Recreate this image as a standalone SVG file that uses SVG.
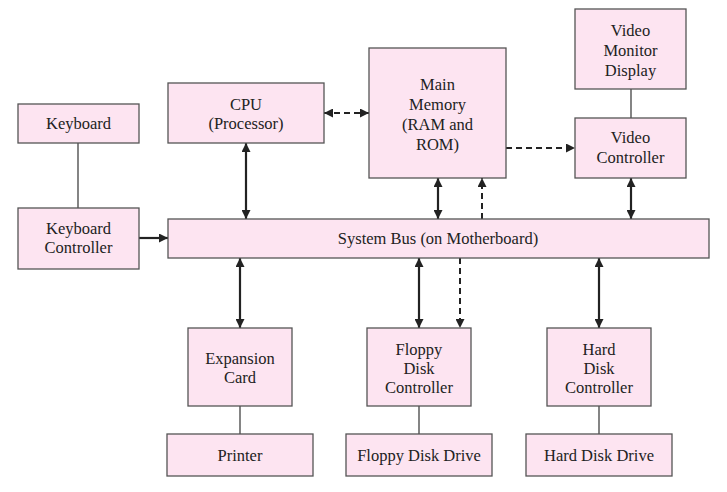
<svg xmlns="http://www.w3.org/2000/svg" width="727" height="492" viewBox="0 0 727 492">
<style>
.box{fill:#fde4f1;stroke:#555;stroke-width:1.3}
.ln{stroke:#333;stroke-width:1.2;fill:none}
.ar{stroke:#222;stroke-width:2.2;fill:none}
.da{stroke:#222;stroke-width:2;fill:none;stroke-dasharray:6 4}
</style>
<defs>
<marker id="ah" viewBox="0 0 10 10" refX="10" refY="5" markerUnits="userSpaceOnUse" markerWidth="9" markerHeight="9" orient="auto-start-reverse">
<path d="M0,0 L10,5 L0,10 z" fill="#222"/>
</marker>
</defs>
<rect width="727" height="492" fill="#fff"/>
<g id="connectors">
<line class="ln" x1="78" y1="143" x2="78" y2="208"/>
<line class="ln" x1="631" y1="89" x2="631" y2="118"/>
<line class="ln" x1="240" y1="406" x2="240" y2="434"/>
<line class="ln" x1="419" y1="406" x2="419" y2="434"/>
<line class="ln" x1="599" y1="406" x2="599" y2="434"/>
<line class="ar" x1="139" y1="238" x2="168" y2="238" marker-end="url(#ah)"/>
<line class="ar" x1="246" y1="143" x2="246" y2="219" marker-start="url(#ah)" marker-end="url(#ah)"/>
<line class="ar" x1="438" y1="178" x2="438" y2="219" marker-start="url(#ah)" marker-end="url(#ah)"/>
<line class="ar" x1="631" y1="178" x2="631" y2="219" marker-start="url(#ah)" marker-end="url(#ah)"/>
<line class="ar" x1="240" y1="258" x2="240" y2="328" marker-start="url(#ah)" marker-end="url(#ah)"/>
<line class="ar" x1="419" y1="258" x2="419" y2="328" marker-start="url(#ah)" marker-end="url(#ah)"/>
<line class="ar" x1="599" y1="258" x2="599" y2="328" marker-start="url(#ah)" marker-end="url(#ah)"/>
<line class="da" x1="324" y1="113" x2="369" y2="113" marker-start="url(#ah)" marker-end="url(#ah)"/>
<line class="da" x1="506" y1="148" x2="575" y2="148" marker-end="url(#ah)"/>
<line class="da" x1="482" y1="219" x2="482" y2="178" marker-end="url(#ah)"/>
<line class="da" x1="460" y1="258" x2="460" y2="328" marker-end="url(#ah)"/>
</g>
<g font-family="Liberation Serif, DejaVu Serif, serif" font-size="16.5" fill="#222" text-anchor="middle">
<g id="keyboard"><rect class="box" x="18" y="104" width="121" height="39"/><text x="78.5" y="129">Keyboard</text></g>
<g id="keyboard-controller"><rect class="box" x="18" y="208" width="121" height="61"/><text x="78.5" y="234">Keyboard</text><text x="78.5" y="253">Controller</text></g>
<g id="cpu"><rect class="box" x="168" y="83" width="156" height="60"/><text x="246" y="110">CPU</text><text x="246" y="129">(Processor)</text></g>
<g id="main-memory"><rect class="box" x="369" y="48" width="137" height="130"/><text x="437.5" y="90">Main</text><text x="437.5" y="110">Memory</text><text x="437.5" y="130">(RAM and</text><text x="437.5" y="150">ROM)</text></g>
<g id="video-monitor"><rect class="box" x="575" y="9" width="111" height="80"/><text x="630.5" y="36">Video</text><text x="630.5" y="56">Monitor</text><text x="630.5" y="76">Display</text></g>
<g id="video-controller"><rect class="box" x="575" y="118" width="111" height="60"/><text x="630.5" y="143">Video</text><text x="630.5" y="163">Controller</text></g>
<g id="system-bus"><rect class="box" x="168" y="219" width="541" height="39"/><text x="438" y="244">System Bus (on Motherboard)</text></g>
<g id="expansion-card"><rect class="box" x="188" y="328" width="104" height="78"/><text x="240" y="364">Expansion</text><text x="240" y="383">Card</text></g>
<g id="floppy-controller"><rect class="box" x="367" y="328" width="104" height="78"/><text x="419" y="355">Floppy</text><text x="419" y="374">Disk</text><text x="419" y="393">Controller</text></g>
<g id="hard-controller"><rect class="box" x="547" y="328" width="104" height="78"/><text x="599" y="355">Hard</text><text x="599" y="374">Disk</text><text x="599" y="393">Controller</text></g>
<g id="printer"><rect class="box" x="167" y="434" width="146" height="42"/><text x="240" y="461">Printer</text></g>
<g id="floppy-drive"><rect class="box" x="346" y="434" width="146" height="42"/><text x="419" y="461">Floppy Disk Drive</text></g>
<g id="hard-drive"><rect class="box" x="526" y="434" width="146" height="42"/><text x="599" y="461">Hard Disk Drive</text></g>
</g>
</svg>
